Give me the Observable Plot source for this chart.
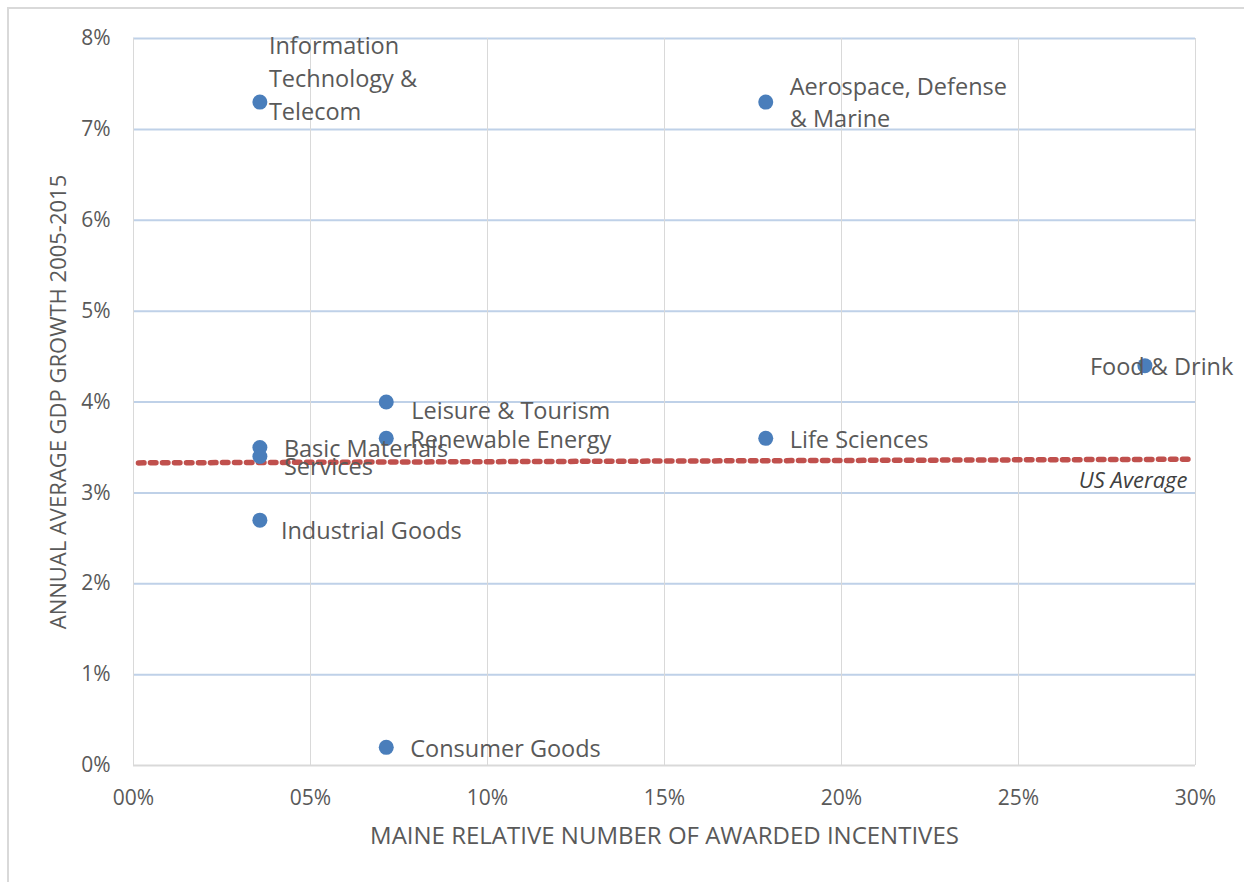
<!DOCTYPE html>
<html>
<head>
<meta charset="utf-8">
<script src="https://cdn.jsdelivr.net/npm/d3@7"></script>
<script src="https://cdn.jsdelivr.net/npm/@observablehq/plot@0.6"></script>
<style>
  html, body { margin: 0; padding: 0; background: #fff; }
  #wrap { position: relative; width: 1244px; height: 882px; overflow: hidden; }
  #frame { position: absolute; left: 7px; top: 7px; width: 1300px; height: 900px;
           border-left: 2px solid #d9d9d9; border-top: 2px solid #d9d9d9; pointer-events: none; }
  #chart { position: absolute; left: 0; top: 0; }
</style>
</head>
<body>
<div id="wrap"><div id="chart"></div><div id="frame"></div></div>
<script>
// ---- data ----
const sectors = [
  "Information\nTechnology &\nTelecom",
  "Aerospace, Defense\n& Marine",
  "Food & Drink",
  "Leisure & Tourism",
  "Renewable Energy",
  "Life Sciences",
  "Basic Materials",
  "Services",
  "Industrial Goods",
  "Consumer Goods"
];
const incentives = [0.0357, 0.1786, 0.2857, 0.0714, 0.0714, 0.1786, 0.0357, 0.0357, 0.0357, 0.0714];
const growth     = [0.073,  0.073,  0.044,  0.040,  0.036,  0.036,  0.035,  0.034,  0.027,  0.002];

const usAvgX = [0.0014, 0.298];
const usAvgY = [0.0333, 0.0337];
const usAvgLabel = "US Average";

const xTicks = [0, 0.05, 0.10, 0.15, 0.20, 0.25, 0.30];
const yTicks = [0, 0.01, 0.02, 0.03, 0.04, 0.05, 0.06, 0.07, 0.08];
const xTitle = "MAINE RELATIVE NUMBER OF AWARDED INCENTIVES";
const yTitle = "ANNUAL AVERAGE GDP GROWTH 2005-2015";

// ---- build table ----
const rows = sectors.map((s, i) => ({sector: s, x: incentives[i], y: growth[i]}));
const usAvg = usAvgX.map((x, i) => ({x, y: usAvgY[i]}));

const textColor = "#595959";
const font = "'Open Sans', 'Segoe UI', sans-serif";
const labelSize = 23.5;

function label(names, dx, dy, extra = {}) {
  return Plot.text(rows.filter(d => names.includes(d.sector)), {
    x: "x", y: "y", text: "sector", dx, dy,
    textAnchor: "start", fill: textColor, fontSize: labelSize,
    lineHeight: 1.4, ...extra
  });
}

const chart = Plot.plot({
  width: 1244,
  height: 882,
  marginLeft: 133,
  marginRight: 49,
  marginTop: 38,
  marginBottom: 117,
  style: {fontFamily: font, color: textColor, background: "white"},
  x: {domain: [0, 0.30], ticks: xTicks},
  y: {domain: [0, 0.08], ticks: yTicks},
  marks: [
    Plot.gridY(yTicks.filter(t => t > 0), {stroke: "#bfd1e8", strokeOpacity: 1, strokeWidth: 2}),
    Plot.gridX(xTicks, {stroke: "#d9d9d9", strokeOpacity: 1, strokeWidth: 1}),
    Plot.ruleY([0], {stroke: "#d9d9d9", strokeWidth: 2}),
    Plot.axisX(xTicks, {
      tickSize: 0, tickPadding: 25, fontSize: 21, fill: textColor, label: null,
      tickFormat: d => String(Math.round(d * 100)).padStart(2, "0") + "%"
    }),
    Plot.axisY(yTicks, {
      tickSize: 0, tickPadding: 23, fontSize: 21, fill: textColor, label: null,
      tickFormat: d => Math.round(d * 100) + "%"
    }),
    Plot.text([xTitle], {frameAnchor: "bottom", dy: 78, fontSize: 24, fill: textColor, textAnchor: "middle"}),
    Plot.text([yTitle], {frameAnchor: "left", dx: -75, rotate: -90, fontSize: 22, fill: textColor, textAnchor: "middle"}),
    Plot.line(usAvg, {x: "x", y: "y", stroke: "#c0504d", strokeWidth: 5.5, strokeDasharray: "5.5,6.5"}),
    Plot.text([usAvgLabel], {x: () => 0.30, y: () => usAvgY[1], dx: -8, dy: 22,
      textAnchor: "end", fontStyle: "italic", fontSize: 22, fill: "#404040"}),
    Plot.dot(rows, {x: "x", y: "y", r: 7.5, fill: "#4a7ebb", stroke: "none"}),
    label([sectors[0]], 9, -26, {lineHeight: 1.4}),
    label([sectors[1]], 24, -1, {lineHeight: 1.36}),
    label([sectors[2]], -55, -1),
    label([sectors[3]], 25, 6),
    label([sectors[4], sectors[5], sectors[6], sectors[9]], 24, -1),
    label([sectors[7]], 24, 8),
    label([sectors[8]], 21, 8)
  ]
});
document.getElementById("chart").appendChild(chart);
</script>
</body>
</html>
